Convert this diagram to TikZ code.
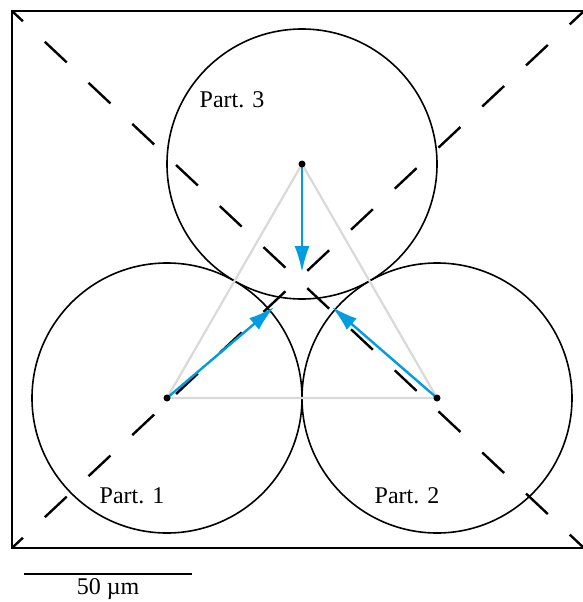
\documentclass[tikz,border=0pt]{standalone}
\usepackage{fontspec}
\setmainfont{Liberation Serif}
\usetikzlibrary{arrows.meta, positioning}
\definecolor{flowblue}{RGB}{0,157,224}
\tikzset{x=1pt, y=-1pt,
part/.style={circle, draw, line width=1.6pt, minimum size=270pt, inner sep=0pt},
dot/.style={circle, fill=black, inner sep=0pt, minimum size=7pt},
diag/.style={line width=2.4pt, dash pattern=on 30pt off 30pt, dash phase=15pt},
link/.style={draw=black!15, line width=2.2pt},
flow/.style={-{Latex[length=26pt, width=15pt]}, flowblue, line width=2.4pt},
label/.style={font=\fontsize{24}{24}\selectfont},
}

\begin{document}
\begin{tikzpicture}
            \useasboundingbox (0,0) rectangle (583,602);
            % frame and diagonals
            \draw[line width=2.6pt] (12,11) rectangle (584,548);
            \coordinate (tl) at (12,11);
            \coordinate (tr) at (584,11);
            \coordinate (bl) at (12,548);
            \coordinate (br) at (584,548);
            \draw[diag] (tl) -- (br);
            \draw[diag] (bl) -- (tr);

            % particles
            \node[part](p1) at (167,398) {};
            \node[part](p2) at (437,398) {};
            \node[part](p3) at (302,164) {};
            \node[label] (l1) at (132,496) {Part. 1};
            \node[label] (l2) at (407,496) {Part. 2};
            \node[label] (l3) at (232,100) {Part. 3};

            \draw[link] (p1.center) -- (p2.center) -- (p3.center) -- cycle;

            \coordinate (t1) at (274,307);
            \coordinate (t2) at (332,307);
            \coordinate (t3) at (302,272);
            \draw[flow] (p1.center) -- (t1);
            \draw[flow] (p2.center) -- (t2);
            \draw[flow] (p3.center) -- (t3);

            \node[dot] (c1) at (p1.center) {};
            \node[dot] (c2) at (p2.center) {};
            \node[dot] (c3) at (p3.center) {};

            % scale bar
            \coordinate (s0) at (24,574);
            \coordinate (s1) at (192,574);
            \draw[line width=2pt] (s0) -- (s1);
            \node[label] (sl) at (108,589) {50 µm};
        \end{tikzpicture}
\end{document}
